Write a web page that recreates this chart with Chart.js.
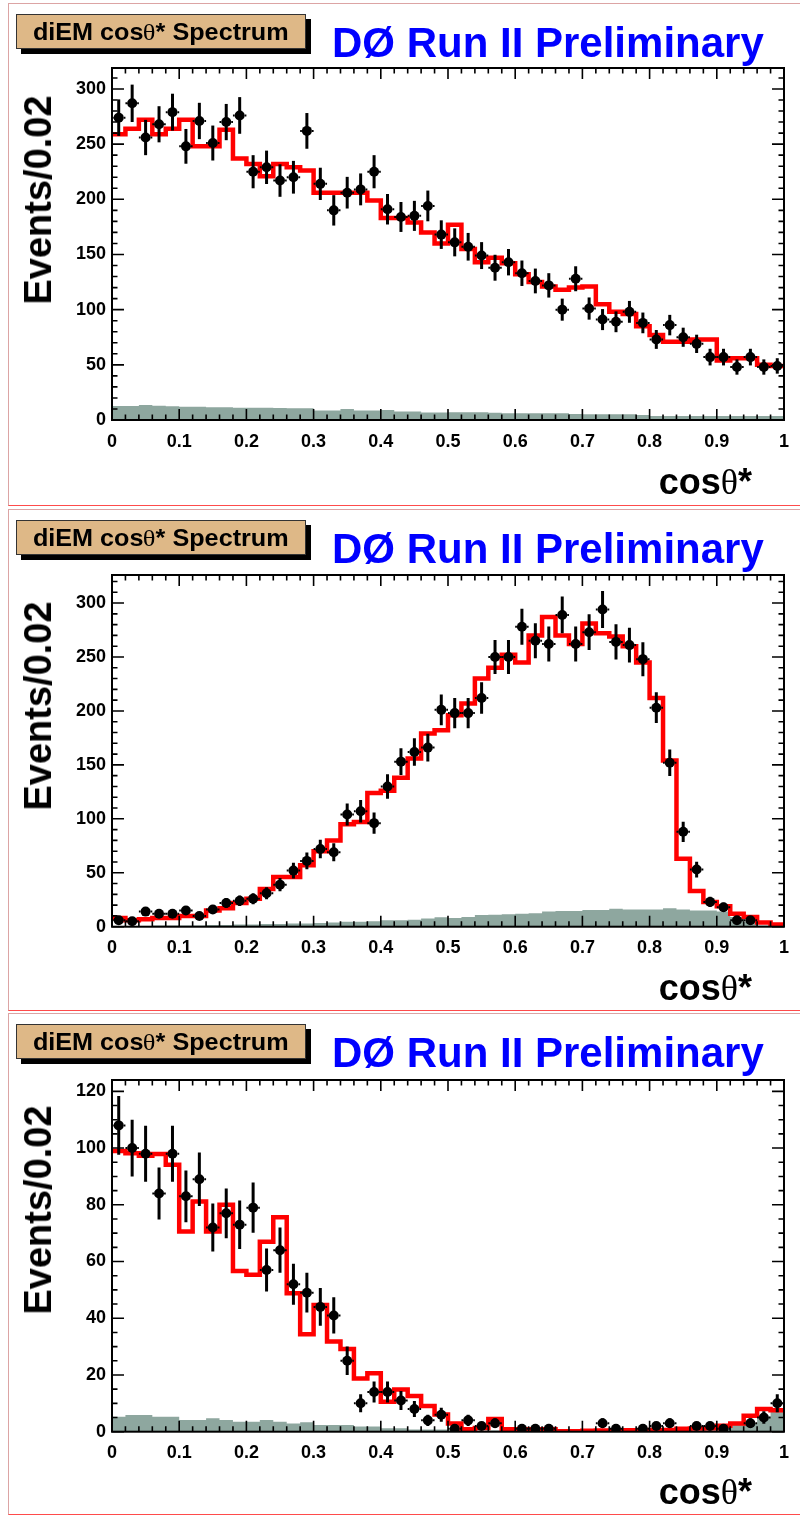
<!DOCTYPE html>
<html>
<head>
<meta charset="utf-8">
<script src="https://cdn.jsdelivr.net/npm/chart.js@4.4.0/dist/chart.umd.min.js"></script>
<style>
  body { margin: 0; background: #fff; width: 800px; height: 1516px; overflow: hidden; position: relative;
         font-family: "Liberation Sans", Arial, sans-serif; font-weight: bold; }
  .panel { position: absolute; left: 8px; width: 830px; border-left: 1px solid #dca4a4;
           border-top: 1px solid #dca4a4; border-bottom: 1px solid #ff4b4b; }
  canvas { position: absolute; left: 0; }
  .tag { position: absolute; left: 16px; width: 288px; height: 33px; background: #deb887;
         border: 1px solid #333; box-shadow: 5px 5px 0 #000; text-align: center; }
  .tag span { display: inline-block; font-size: 24px; line-height: 33px; transform: scaleX(1.05); white-space: nowrap; }
  .title { position: absolute; left: 332px; font-size: 42px; line-height: 42px; color: #0000ff; white-space: nowrap; }
  .ytitle { position: absolute; left: 37.5px; font-size: 38px; line-height: 38px; white-space: nowrap;
            transform: translate(-50%, -50%) rotate(-90deg); }
  .xtitle { position: absolute; right: 48px; font-size: 36px; line-height: 36px; white-space: nowrap; }
  .sym { font-family: "Liberation Serif", "DejaVu Serif", serif; font-weight: normal; }
</style>
</head>
<body>
<script>
// cos(theta*) histograms, 50 bins of 0.02
const binWidth = 0.02;
const nBins = 50;

// panel 1 : data, signal+background MC (red), background (grey)
const dataP1 = [274, 287, 256, 268, 279, 248, 271, 251, 270, 276,
                225, 229, 217, 220, 262, 214, 190, 206, 209, 225,
                191, 184, 185, 194, 168, 161, 157, 149, 138, 143,
                133, 126, 122, 100, 128, 101, 91, 89, 98, 88,
                73, 86, 75, 69, 57, 57, 48, 57, 48, 49];
const mcP1 = [259, 264, 272, 259, 264, 272, 248, 248, 263, 237,
              232, 221, 232, 229, 226, 206, 206, 206, 206, 199,
              183, 183, 179, 170, 160, 177, 155, 143, 147, 142,
              132, 125, 121, 118, 120, 121, 105, 98, 96, 85,
              77, 71, 71, 73, 73, 54, 56, 56, 50, 49];
const bgP1 = [12.7, 12.7, 13.6, 13, 12.5, 12.1, 12.1, 11.5, 11.5, 11.2,
              11.2, 11, 10.8, 10.6, 10.6, 8.5, 8.5, 10, 8.5, 8.5,
              9, 7.6, 7.6, 6.7, 6.7, 7, 7, 7, 6.5, 6.1,
              6.1, 6.1, 6.1, 6.1, 5.5, 5.2, 5.2, 5.2, 5.2, 4.5,
              3.6, 3.6, 3.6, 3.6, 3.6, 3.6, 3.6, 3.6, 3.6, 3.6];

// panel 2
const dataP2 = [6, 5, 14, 12, 12, 15, 10, 16, 22, 24,
                26, 31, 39, 52, 61, 72, 69, 104, 107, 96,
                130, 153, 162, 166, 201, 198, 198, 212, 250, 250,
                278, 265, 262, 289, 262, 273, 294, 264, 261, 248,
                203, 152, 88, 53, 23, 18, 6, 6, null, null];
const mcP2 = [8, 6, 7, 8, 8, 10, 10, 15, 17, 22,
              26, 35, 46, 46, 57, 70, 80, 95, 97, 124,
              126, 138, 156, 179, 182, 196, 207, 230, 240, 252,
              245, 270, 287, 270, 262, 281, 272, 269, 260, 245,
              212, 154, 63, 33, 23, 19, 12, 9, 4, 2];
const bgP2 = [0.5, 0.5, 0.5, 1, 1, 1, 1, 1.5, 1.5, 2,
              2, 2.5, 2.5, 3, 3, 3.5, 4, 4.5, 4.6, 5,
              6, 6, 6.5, 7.7, 8.7, 8, 9, 10.8, 11, 11.5,
              12, 12.5, 14, 14.5, 14.5, 15.5, 15.5, 16.7, 16, 16,
              16, 17, 16, 15, 15, 14, 9, 4.6, 1, 0];

// panel 3
const dataP3 = [108, 100, 98, 84, 98, 83, 89, 72, 77, 73,
                79, 57, 64, 52, 49, 44, 41, 25, 10, 14,
                14, 11, 8, 4, 6, 1, 4, 2, 3, null,
                1, 1, 1, null, null, null, 3, 1, null, 1,
                2, 3, null, 2, 2, 1, null, 3, 5, 10];
const mcP3 = [99, 98.2, 97.3, 97.9, 94.1, 70.6, 81.2, 70.6, 80, 56.7,
              55.3, 67, 75.6, 48.8, 34.4, 44.7, 31.8, 29.2, 18.8, 20.6,
              10.6, 14.9, 12.6, 9.1, 6.1, 2.9, 0.9, 1.3, 4.5, 0.9,
              0.9, 0.9, 0.9, 0.2, 0.2, 0.3, 0.4, 0.4, 0.5, 0.5,
              0.6, 0.6, 1.0, 1.1, 1.2, 2.1, 2.9, 5.6, 8, 7.6];
const bgP3 = [5.3, 5.9, 5.9, 5.3, 5.3, 4.1, 4.1, 4.7, 4.1, 3.5,
              3.5, 4.1, 3.5, 2.9, 3.3, 2.4, 2.4, 2.4, 1.8, 1.8,
              1.2, 1.2, 0.8, 0.8, 0.8, 0.5, 0.5, 0.4, 0.4, 0.4,
              0.3, 0.3, 0.3, 0.3, 0.3, 0.3, 0.3, 0.3, 0.3, 0.3,
              0.3, 0.3, 0.3, 0.4, 0.5, 1.2, 2.4, 3, 5.3, 7.3];

const yMaxes = [319, 326, 124];
const yMajorSteps = [50, 50, 20];
const yMinorSteps = [10, 10, 5];

const panels = [
  { top: 3,    h: 501, padTop: 65, padBottom: 85,   data: dataP1, mc: mcP1, bg: bgP1 },
  { top: 509,  h: 500, padTop: 66, padBottom: 84.3, data: dataP2, mc: mcP2, bg: bgP2 },
  { top: 1013, h: 500, padTop: 67, padBottom: 83.3, data: dataP3, mc: mcP3, bg: bgP3 },
];

const tickFont = { family: '"Liberation Sans", Arial, sans-serif', weight: 'bold', size: 18 };

// histogram outline: one point per low edge, plus the closing edge at 1
function histPoints(values) {
  const pts = values.map((v, i) => ({ x: i * binWidth, y: v }));
  pts.push({ x: nBins * binWidth, y: values[values.length - 1] });
  return pts;
}

// ROOT style frame: ticks inside on all four sides + data error bars
const rootFrame = {
  id: 'rootFrame',
  afterDatasetsDraw(chart) {
    const { ctx, chartArea: a, scales: { x, y } } = chart;
    ctx.save();
    ctx.beginPath();
    ctx.rect(a.left, a.top, a.width, a.height);
    ctx.clip();
    ctx.strokeStyle = '#000';
    chart.data.datasets[0].data.forEach(p => {
      const px = x.getPixelForValue(p.x);
      const py = y.getPixelForValue(p.y);
      const err = Math.sqrt(p.y);  // poisson
      ctx.lineWidth = 3;
      ctx.beginPath();
      ctx.moveTo(px, y.getPixelForValue(p.y - err));
      ctx.lineTo(px, y.getPixelForValue(p.y + err));
      ctx.stroke();
      const hl = x.getPixelForValue(p.x - binWidth / 2);
      const hr = x.getPixelForValue(p.x + binWidth / 2);
      ctx.lineWidth = 2;
      ctx.beginPath();
      ctx.moveTo(hl, py); ctx.lineTo(px - 5, py);
      ctx.moveTo(px + 5, py); ctx.lineTo(hr, py);
      ctx.stroke();
    });
    ctx.restore();
  },
  afterDraw(chart, args, opts) {
    const { ctx, chartArea: a, scales: { x, y } } = chart;
    ctx.save();
    ctx.strokeStyle = '#000';
    ctx.lineWidth = 1.6;
    ctx.beginPath();
    for (let i = 0; i <= nBins; i++) {
      const px = x.getPixelForValue(i * binWidth);
      const len = i % 5 === 0 ? 11 : 5.5;
      ctx.moveTo(px, a.bottom); ctx.lineTo(px, a.bottom - len);
      ctx.moveTo(px, a.top); ctx.lineTo(px, a.top + len);
    }
    for (let v = 0; v <= opts.yMax; v += opts.minor) {
      const py = y.getPixelForValue(v);
      const len = v % opts.major === 0 ? 12 : 5.5;
      ctx.moveTo(a.left, py); ctx.lineTo(a.left + len, py);
      ctx.moveTo(a.right, py); ctx.lineTo(a.right - len, py);
    }
    ctx.stroke();
    ctx.lineWidth = 2;
    ctx.strokeRect(a.left, a.top, a.width, a.height);
    ctx.restore();
  }
};

panels.forEach((p, k) => {
  const box = document.createElement('div');
  box.className = 'panel';
  box.style.top = p.top + 'px';
  box.style.height = p.h + 'px';
  document.body.appendChild(box);

  const canvas = document.createElement('canvas');
  canvas.width = 800;
  canvas.height = 502;
  canvas.style.top = p.top + 'px';
  document.body.appendChild(canvas);

  const tag = document.createElement('div');
  tag.className = 'tag';
  tag.style.top = (p.top + 11) + 'px';
  tag.innerHTML = '<span>diEM cos<span class="sym">θ</span>* Spectrum</span>';
  document.body.appendChild(tag);

  const title = document.createElement('div');
  title.className = 'title';
  title.style.top = (p.top + 19) + 'px';
  title.textContent = 'DØ Run II Preliminary';
  document.body.appendChild(title);

  const ytitle = document.createElement('div');
  ytitle.className = 'ytitle';
  ytitle.style.top = (p.top + 197) + 'px';
  ytitle.textContent = 'Events/0.02';
  document.body.appendChild(ytitle);

  const xtitle = document.createElement('div');
  xtitle.className = 'xtitle';
  xtitle.style.top = (p.top + 461) + 'px';
  xtitle.innerHTML = 'cos<span class="sym">θ</span>*';
  document.body.appendChild(xtitle);

  const points = [];
  p.data.forEach((v, i) => {
    if (v !== null) points.push({ x: (i + 0.5) * binWidth, y: v });
  });

  new Chart(canvas, {
    type: 'scatter',
    data: {
      datasets: [
        {
          label: 'data',
          data: points,
          pointRadius: 5,
          pointBackgroundColor: '#000',
          pointBorderWidth: 0,
        },
        {
          type: 'line',
          label: 'signal + background',
          data: histPoints(p.mc),
          stepped: 'before',
          borderColor: '#ff0000',
          borderWidth: 4.5,
          pointRadius: 0,
          fill: false,
        },
        {
          type: 'line',
          label: 'background',
          data: histPoints(p.bg),
          stepped: 'before',
          borderWidth: 0,
          borderColor: 'rgba(0,0,0,0)',
          backgroundColor: '#8ea79f',
          pointRadius: 0,
          fill: 'origin',
        },
      ],
    },
    options: {
      responsive: false,
      animation: false,
      devicePixelRatio: 1,
      events: [],
      layout: { padding: { left: 0, right: 11, top: p.padTop, bottom: 0 } },
      scales: {
        x: {
          type: 'linear',
          min: 0,
          max: 1,
          afterFit: s => { s.height = p.padBottom; },
          grid: { display: false, drawTicks: false },
          border: { display: false },
          ticks: {
            stepSize: 0.1,
            padding: 11,
            color: '#000',
            font: tickFont,
            maxRotation: 0,
            autoSkip: false,
            callback: v => String(Math.round(v * 10) / 10),
          },
        },
        y: {
          min: 0,
          max: yMaxes[k],
          afterFit: s => { s.width = 112; },
          grid: { display: false, drawTicks: false },
          border: { display: false },
          ticks: {
            stepSize: yMajorSteps[k],
            includeBounds: false,
            padding: 6,
            color: '#000',
            font: tickFont,
          },
        },
      },
      plugins: {
        legend: { display: false },
        tooltip: { enabled: false },
        rootFrame: { yMax: yMaxes[k], major: yMajorSteps[k], minor: yMinorSteps[k] },
      },
    },
    plugins: [rootFrame],
  });
});
</script>
</body>
</html>
